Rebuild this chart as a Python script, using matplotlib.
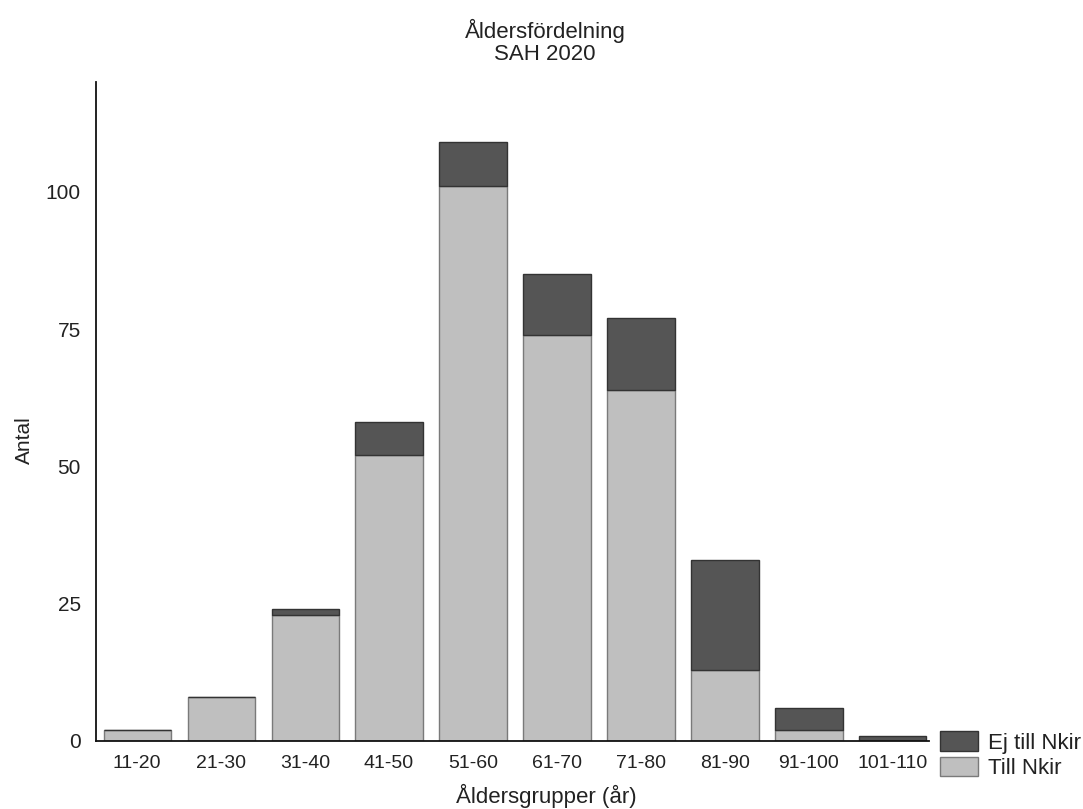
import matplotlib
matplotlib.use("Agg")
import matplotlib.pyplot as plt
import numpy as np

# Age groups and counts per outcome
age_groups = ["11-20", "21-30", "31-40", "41-50", "51-60",
              "61-70", "71-80", "81-90", "91-100", "101-110"]
till_nkir = [2, 8, 23, 52, 101, 74, 64, 13, 2, 0]
ej_till_nkir = [0, 0, 1, 6, 8, 11, 13, 20, 4, 1]

plt.rcParams["font.family"] = ["Liberation Sans", "DejaVu Sans"]

fig = plt.figure(figsize=(10.83, 8.09), dpi=100)
ax = fig.add_axes([96 / 1083, 1 - 741 / 809, (929 - 96) / 1083, (741 - 82) / 809])

x = np.arange(len(age_groups))
light = "#bfbfbf"
dark = "#555555"
text_c = "#222222"

b1 = ax.bar(x, till_nkir, width=0.8, color=light, edgecolor="#7a7a7a",
            linewidth=1.0, label="Till Nkir")
b2 = ax.bar(x, ej_till_nkir, width=0.8, bottom=till_nkir, color=dark,
            edgecolor="#333333", linewidth=1.0, label="Ej till Nkir")

ax.set_xlim(-0.49, 9.43)
ax.set_ylim(0, 120)
ax.set_yticks([0, 25, 50, 75, 100])
ax.set_xticks(x)
ax.set_xticklabels(age_groups)
ax.tick_params(axis="both", length=0, colors=text_c)
ax.tick_params(axis="x", pad=10, labelsize=14)
ax.tick_params(axis="y", pad=11, labelsize=15)

for s in ["top", "right"]:
    ax.spines[s].set_visible(False)
for s in ["left", "bottom"]:
    ax.spines[s].set_linewidth(1.3)
    ax.spines[s].set_color("#111111")

fig.text(545 / 1083, 1 - 31 / 809, "Åldersfördelning", ha="center", va="center",
         fontsize=16, color=text_c)
fig.text(545 / 1083, 1 - 54 / 809, "SAH 2020", ha="center", va="center",
         fontsize=16, color=text_c)
fig.text(24 / 1083, 1 - 440 / 809, "Antal", ha="center", va="center",
         rotation=90, fontsize=15, color=text_c)
fig.text(546 / 1083, 1 - 796 / 809, "Åldersgrupper (år)", ha="center",
         va="center", fontsize=16, color=text_c)

leg = fig.legend(handles=[b2, b1], labels=["Ej till Nkir", "Till Nkir"],
                 loc="upper left", bbox_to_anchor=(936 / 1083, 1 - 727 / 809),
                 frameon=False, fontsize=16, handlelength=1.67, handleheight=0.95,
                 handletextpad=0.45, labelspacing=0.15, borderpad=0.2,
                 borderaxespad=0)
for t in leg.get_texts():
    t.set_color(text_c)

fig.savefig("out.png", dpi=100)
